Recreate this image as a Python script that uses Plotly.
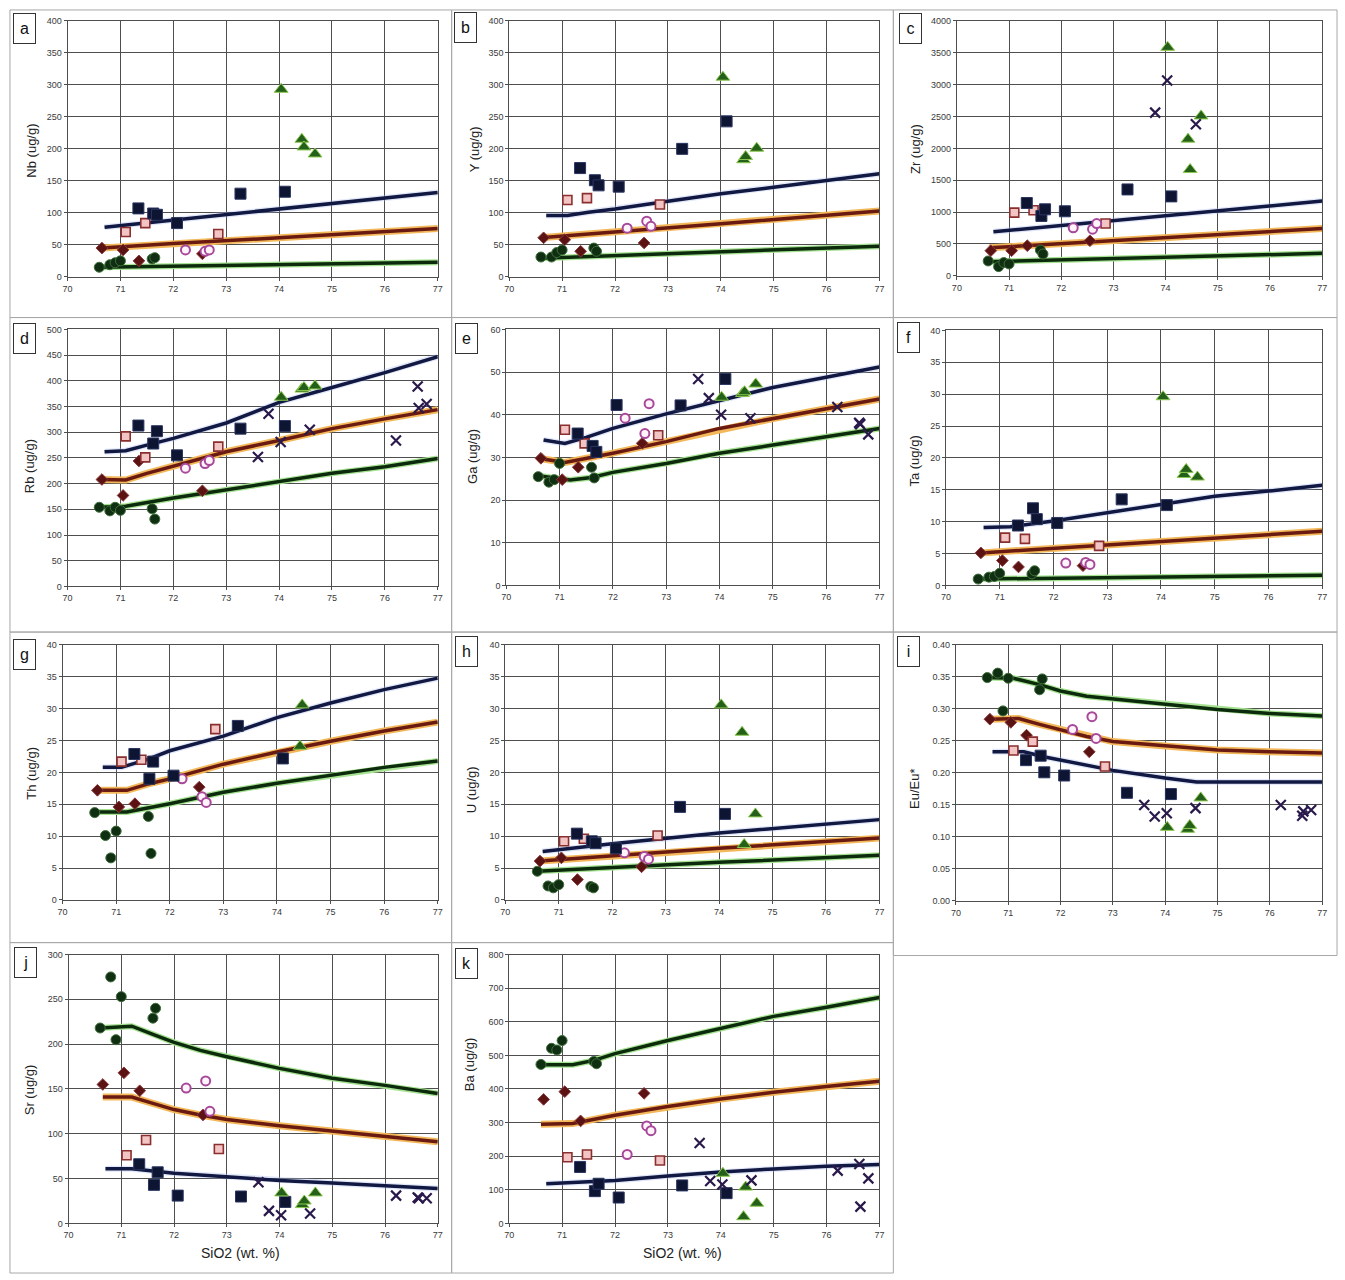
import plotly.graph_objects as go

W, H = 1345, 1280

# ---------------- shared SiO2 (wt.%) of each sample group ----------------
SIO2_CIRCLE = [70.6, 70.8, 70.9, 71.0, 71.6, 71.65]
SIO2_DIAMOND = [70.65, 71.05, 71.35, 72.55]
SIO2_PINKSQ = [71.1, 71.47, 72.85]
SIO2_OPENCIRC = [72.23, 72.6, 72.68]
SIO2_NAVYSQ = [71.34, 71.62, 71.69, 72.07, 73.27, 74.11]
SIO2_TRIANGLE = [74.04, 74.43, 74.47, 74.68]
SIO2_CROSS = [73.6, 73.8, 74.03, 74.58, 76.21, 76.62, 76.64, 76.79]
X_TICKS = [70, 71, 72, 73, 74, 75, 76, 77]

# ---------------- a: Nb ----------------
NB_CIRCLE = [15, 19, 22, 25, 28, 30]
NB_DIAMOND = [45, 42, 25, 36]
NB_PINKSQ = [70, 84, 67]
NB_OPENCIRC = [42, 40, 42]
NB_NAVYSQ = [107, 99, 97, 84, 130, 133]
NB_TRIANGLE = [293, 215, 203, 192]
NB_CROSS = [None] * 8
NB_NAVY_LINE = ([70.7, 72, 74, 77], [77.5, 89, 106, 132])
NB_BROWN_LINE = ([70.65, 72, 74, 77], [45, 52, 61, 75.5])
NB_GREEN_LINE = ([70.6, 72, 74, 77], [15, 17, 19, 23])

# ---------------- b: Y ----------------
Y_CIRCLE = [31, 31, 38, 42, 45, 40]
Y_DIAMOND = [61, 58, 40, 53]
Y_PINKSQ = [120, 123, 113]
Y_OPENCIRC = [76, 87, 79]
Y_NAVYSQ = [170, 151, 143, 141, 200, 243]
Y_TRIANGLE = [312, 183, 188, 201]
Y_CROSS = [None] * 8
Y_NAVY_LINE = ([70.7, 71.1, 71.5, 72, 73, 74, 75, 76, 77], [96, 96, 101, 106, 118, 130, 140, 151, 161])
Y_BROWN_LINE = ([70.65, 72, 74, 77], [61.5, 70, 83, 103])
Y_GREEN_LINE = ([70.6, 72, 74, 77], [29, 33, 39, 48])

# ---------------- c: Zr ----------------
ZR_CIRCLE = [234, 145, 208, 187, 405, 343]
ZR_DIAMOND = [395, 395, 473, 551]
ZR_PINKSQ = [992, 1029, 821]
ZR_OPENCIRC = [753, 732, 821]
ZR_NAVYSQ = [1143, 940, 1044, 1013, 1356, 1247]
ZR_TRIANGLE = [3585, 2145, 1668, 2509]
ZR_CROSS = [None, 2561, 3065, 2379, None, None, None, None]
ZR_NAVY_LINE = ([70.7, 72, 74, 77], [691, 790, 945, 1174])
ZR_BROWN_LINE = ([70.62, 72, 74, 77], [440, 506, 602, 743])
ZR_GREEN_LINE = ([70.6, 72, 74, 77], [223, 250, 292, 353])

# ---------------- d: Rb ----------------
RB_CIRCLE = [154, 147, 154, 148, 151, 131]
RB_DIAMOND = [208, 177, 244, 186]
RB_PINKSQ = [292, 251, 272]
RB_OPENCIRC = [230, 239, 245]
RB_NAVYSQ = [313, 278, 302, 255, 307, 312]
RB_TRIANGLE = [368, 384, 387, 390]
RB_CROSS = [252, 336, 281, 305, 284, 389, 347, 355]
RB_NAVY_LINE = ([70.7, 71.1, 71.5, 72, 73, 74, 75, 76, 77], [262, 264, 275, 288, 318, 358, 387, 416, 447])
RB_BROWN_LINE = ([70.65, 71.1, 71.5, 72, 73, 74, 75, 76, 77], [208, 207, 220, 234, 262, 284, 307, 326, 344])
RB_GREEN_LINE = ([70.6, 71.1, 72, 73, 74, 75, 76, 77], [154, 156, 172, 188, 203, 220, 233, 249])

# ---------------- e: Ga ----------------
GA_CIRCLE = [25.5, 24.2, 24.8, 28.6, 27.7, 25.2]
GA_DIAMOND = [29.8, 24.8, 27.7, 33.3]
GA_PINKSQ = [36.5, 33.3, 35.2]
GA_OPENCIRC = [39.2, 35.6, 42.6]
GA_NAVYSQ = [35.6, 32.7, 31.3, 42.3, 42.2, 48.4]
GA_TRIANGLE = [44.1, 45.0, 45.4, 47.2]
GA_CROSS = [48.4, 43.9, 40.0, 39.2, 41.8, 38.1, 37.8, 35.4]
GA_NAVY_LINE = ([70.7, 71.1, 71.5, 72, 73, 74, 75, 76, 77], [34.1, 33.3, 34.7, 36.8, 40.2, 43.3, 46.4, 48.8, 51.2])
GA_BROWN_LINE = ([70.6, 71.1, 72, 73, 74, 75, 76, 77], [29.8, 28.8, 31.0, 33.7, 36.8, 39.1, 41.4, 43.7])
GA_GREEN_LINE = ([70.6, 71.0, 71.2, 71.6, 72, 73, 74, 75, 76, 77], [25.7, 24.9, 24.7, 25.3, 26.5, 28.6, 31.0, 32.9, 34.8, 36.8])

# ---------------- f: Ta ----------------
TA_CIRCLE = [1.0, 1.3, 1.4, 1.9, 1.8, 2.3]
TA_DIAMOND = [5.1, 3.9, 2.9, 3.1]
TA_PINKSQ = [7.5, 7.3, 6.2]
TA_OPENCIRC = [3.5, 3.6, 3.3]
TA_NAVYSQ = [9.4, 12.1, 10.4, 9.8, 13.5, 12.6]
TA_TRIANGLE = [29.6, 17.4, 18.2, 17.0]
TA_CROSS = [None] * 8
TA_NAVY_LINE = ([70.7, 71.2, 72, 73, 74, 75, 76, 77], [9.1, 9.2, 10.1, 11.4, 12.7, 14.0, 14.8, 15.7])
TA_BROWN_LINE = ([70.65, 72, 74, 77], [5.1, 5.8, 6.9, 8.5])
TA_GREEN_LINE = ([70.6, 72, 74, 77], [1.0, 1.15, 1.3, 1.6])

# ---------------- g: Th ----------------
TH_CIRCLE = [13.7, 10.1, 6.6, 10.8, 13.1, 7.3]
TH_DIAMOND = [17.2, 14.6, 15.1, 17.7]
TH_PINKSQ = [21.7, 22.0, 26.8]
TH_OPENCIRC = [19.0, 16.2, 15.3]
TH_NAVYSQ = [22.9, 19.0, 21.7, 19.5, 27.3, 22.2]
TH_TRIANGLE = [None, 24.1, 30.6, None]
TH_CROSS = [None] * 8
TH_NAVY_LINE = ([70.75, 71.1, 71.6, 72, 73, 74, 75, 76, 77], [20.8, 20.8, 22.1, 23.4, 25.7, 28.6, 30.9, 33.0, 34.8])
TH_BROWN_LINE = ([70.65, 71.2, 71.6, 72, 73, 74, 75, 76, 77], [17.2, 17.2, 18.2, 19.0, 21.3, 23.2, 24.9, 26.5, 27.9])
TH_GREEN_LINE = ([70.6, 71.2, 72, 73, 74, 75, 76, 77], [13.8, 13.8, 15.1, 16.9, 18.3, 19.5, 20.8, 21.8])

# ---------------- h: U ----------------
U_CIRCLE = [4.5, 2.2, 1.9, 2.4, 2.1, 1.9]
U_DIAMOND = [6.1, 6.6, 3.2, 5.2]
U_PINKSQ = [9.2, 9.6, 10.1]
U_OPENCIRC = [7.4, 6.8, 6.4]
U_NAVYSQ = [10.4, 9.2, 8.9, 8.1, 14.6, 13.5]
U_TRIANGLE = [30.6, 26.3, 8.7, 13.5]
U_CROSS = [None] * 8
U_NAVY_LINE = ([70.7, 72, 74, 77], [7.6, 8.8, 10.5, 12.6])
U_BROWN_LINE = ([70.65, 72, 74, 77], [6.1, 6.9, 8.1, 9.7])
U_GREEN_LINE = ([70.6, 72, 74, 77], [4.5, 5.1, 5.9, 7.0])

# ---------------- i: Eu/Eu* ----------------
EU_CIRCLE = [0.349, 0.356, 0.297, 0.348, 0.330, 0.347]
EU_DIAMOND = [0.284, 0.279, 0.259, 0.233]
EU_PINKSQ = [0.235, 0.249, 0.210]
EU_OPENCIRC = [0.268, 0.288, 0.254]
EU_NAVYSQ = [0.220, 0.227, 0.201, 0.196, 0.169, 0.167]
EU_TRIANGLE = [0.115, 0.112, 0.118, 0.161]
EU_CROSS = [0.150, 0.132, 0.137, 0.145, 0.150, 0.133, 0.140, 0.142]
EU_NAVY_LINE = ([70.7, 71.3, 71.7, 72, 73, 74, 74.6, 77], [0.233, 0.233, 0.225, 0.220, 0.204, 0.192, 0.186, 0.186])
EU_BROWN_LINE = ([70.65, 71.2, 71.6, 72, 72.5, 73, 74, 75, 76, 77], [0.284, 0.285, 0.276, 0.268, 0.257, 0.249, 0.242, 0.236, 0.233, 0.231])
EU_GREEN_LINE = ([70.55, 71.1, 71.6, 72, 72.5, 73, 74, 75, 76, 77], [0.349, 0.348, 0.338, 0.328, 0.320, 0.316, 0.307, 0.299, 0.293, 0.289])

# ---------------- j: Sr ----------------
SR_CIRCLE = [218, 275, 205, 253, 229, 240]
SR_DIAMOND = [155, 168, 148, 121]
SR_PINKSQ = [76, 93, 83]
SR_OPENCIRC = [151, 159, 125]
SR_NAVYSQ = [66, 43, 57, 31, 30, 24]
SR_TRIANGLE = [34, 21, 25, 34]
SR_CROSS = [46, 14, 9, 11, 31, 29, 28, 28]
SR_NAVY_LINE = ([70.7, 71.2, 72, 73, 74, 75, 76, 77], [61, 61, 56, 52, 48, 45, 42, 39])
SR_BROWN_LINE = ([70.65, 71.2, 71.6, 72, 72.5, 73, 74, 75, 76, 77], [141, 141, 134, 127, 121, 116, 109, 103, 97, 91])
SR_GREEN_LINE = ([70.6, 71.2, 71.6, 72, 72.5, 73, 74, 75, 76, 77], [218, 220, 211, 202, 193, 186, 173, 162, 154, 145])

# ---------------- k: Ba ----------------
BA_CIRCLE = [473, 521, 516, 544, 482, 475]
BA_DIAMOND = [369, 392, 305, 387]
BA_PINKSQ = [197, 205, 187]
BA_OPENCIRC = [205, 290, 276]
BA_NAVYSQ = [168, 96, 118, 77, 113, 90]
BA_TRIANGLE = [149, 20, 108, 60]
BA_CROSS = [239, 126, 116, 128, 157, 177, 50, 134]
BA_NAVY_LINE = ([70.7, 71.5, 72, 73, 74, 75, 76, 77], [118, 123, 128, 141, 153, 162, 170, 175])
BA_BROWN_LINE = ([70.6, 71.2, 72, 73, 74, 75, 76, 77], [295, 297, 322, 348, 370, 390, 407, 423])
BA_GREEN_LINE = ([70.6, 71.2, 71.6, 72, 73, 74, 75, 76, 77], [472, 472, 485, 505, 544, 581, 616, 643, 672])

# ---------------- panel set-up (layout only) ----------------
# label, y-title, y max, y step, plot box px (x0, x1, y0, y1), frame px, label px, ytitle px, data
PANELS = [
    ("a", "Nb (ug/g)", 400, 50, (63, 436, 16, 274), (5, 450, 5, 315), (20, 24), (27, 147),
     (NB_CIRCLE, NB_DIAMOND, NB_PINKSQ, NB_OPENCIRC, NB_NAVYSQ, NB_TRIANGLE, NB_CROSS, NB_NAVY_LINE, NB_BROWN_LINE, NB_GREEN_LINE)),
    ("b", "Y (ug/g)", 400, 50, (508, 881, 16, 274), (450, 895, 5, 315), (464, 23), (473, 145),
     (Y_CIRCLE, Y_DIAMOND, Y_PINKSQ, Y_OPENCIRC, Y_NAVYSQ, Y_TRIANGLE, Y_CROSS, Y_NAVY_LINE, Y_BROWN_LINE, Y_GREEN_LINE)),
    ("c", "Zr (ug/g)", 4000, 500, (959, 1327, 16, 273), (895, 1342, 5, 315), (912, 24), (918, 145),
     (ZR_CIRCLE, ZR_DIAMOND, ZR_PINKSQ, ZR_OPENCIRC, ZR_NAVYSQ, ZR_TRIANGLE, ZR_CROSS, ZR_NAVY_LINE, ZR_BROWN_LINE, ZR_GREEN_LINE)),
    ("d", "Rb (ug/g)", 500, 50, (63, 436, 327, 586), (5, 450, 315, 632), (20, 336), (25, 465),
     (RB_CIRCLE, RB_DIAMOND, RB_PINKSQ, RB_OPENCIRC, RB_NAVYSQ, RB_TRIANGLE, RB_CROSS, RB_NAVY_LINE, RB_BROWN_LINE, RB_GREEN_LINE)),
    ("e", "Ga (ug/g)", 60, 10, (505, 881, 327, 585), (450, 895, 315, 632), (465, 336), (471, 455),
     (GA_CIRCLE, GA_DIAMOND, GA_PINKSQ, GA_OPENCIRC, GA_NAVYSQ, GA_TRIANGLE, GA_CROSS, GA_NAVY_LINE, GA_BROWN_LINE, GA_GREEN_LINE)),
    ("f", "Ta (ug/g)", 40, 5, (948, 1327, 328, 585), (895, 1342, 315, 632), (910, 335), (916, 460),
     (TA_CIRCLE, TA_DIAMOND, TA_PINKSQ, TA_OPENCIRC, TA_NAVYSQ, TA_TRIANGLE, TA_CROSS, TA_NAVY_LINE, TA_BROWN_LINE, TA_GREEN_LINE)),
    ("g", "Th (ug/g)", 40, 5, (58, 436, 645, 902), (5, 450, 632, 945), (20, 655), (27, 774),
     (TH_CIRCLE, TH_DIAMOND, TH_PINKSQ, TH_OPENCIRC, TH_NAVYSQ, TH_TRIANGLE, TH_CROSS, TH_NAVY_LINE, TH_BROWN_LINE, TH_GREEN_LINE)),
    ("h", "U (ug/g)", 40, 5, (504, 881, 645, 902), (450, 895, 632, 945), (465, 652), (470, 791),
     (U_CIRCLE, U_DIAMOND, U_PINKSQ, U_OPENCIRC, U_NAVYSQ, U_TRIANGLE, U_CROSS, U_NAVY_LINE, U_BROWN_LINE, U_GREEN_LINE)),
    ("i", "Eu/Eu*", 0.40, 0.05, (958, 1327, 645, 903), (895, 1342, 632, 958), (910, 652), (917, 790),
     (EU_CIRCLE, EU_DIAMOND, EU_PINKSQ, EU_OPENCIRC, EU_NAVYSQ, EU_TRIANGLE, EU_CROSS, EU_NAVY_LINE, EU_BROWN_LINE, EU_GREEN_LINE)),
    ("j", "Sr (ug/g)", 300, 50, (64, 436, 957, 1228), (5, 450, 945, 1278), (21, 965), (25, 1093),
     (SR_CIRCLE, SR_DIAMOND, SR_PINKSQ, SR_OPENCIRC, SR_NAVYSQ, SR_TRIANGLE, SR_CROSS, SR_NAVY_LINE, SR_BROWN_LINE, SR_GREEN_LINE)),
    ("k", "Ba (ug/g)", 800, 100, (508, 881, 957, 1228), (450, 895, 945, 1278), (465, 966), (468, 1068),
     (BA_CIRCLE, BA_DIAMOND, BA_PINKSQ, BA_OPENCIRC, BA_NAVYSQ, BA_TRIANGLE, BA_CROSS, BA_NAVY_LINE, BA_BROWN_LINE, BA_GREEN_LINE)),
]

def px(x):
    return x / W

def py(y):
    return 1 - y / H

NAVY = "#111842"
BROWN = "#6a1a10"
DGREEN = "#0c2a0c"
GRID = "#4e4e4e"
FONT = "Liberation Sans, Arial, sans-serif"

fig = go.Figure()
shapes = []
annotations = []
layout_axes = {}

for i, (lab, ytitle, ymax, ystep, box, frame, lpos, tpos, data) in enumerate(PANELS):
    n = i + 1
    xa = "x" if n == 1 else f"x{n}"
    ya = "y" if n == 1 else f"y{n}"
    circ, diam, psq, ocirc, nsq, tri, cross, navy_l, brown_l, green_l = data

    # model curves (glow under + core line)
    fig.add_trace(go.Scatter(x=navy_l[0], y=navy_l[1], mode="lines", xaxis=xa, yaxis=ya,
                             line=dict(color="rgba(170,185,235,0.35)", width=6), hoverinfo="skip"))
    fig.add_trace(go.Scatter(x=navy_l[0], y=navy_l[1], mode="lines", xaxis=xa, yaxis=ya,
                             line=dict(color=NAVY, width=3.5)))
    fig.add_trace(go.Scatter(x=brown_l[0], y=brown_l[1], mode="lines", xaxis=xa, yaxis=ya,
                             line=dict(color="#f2b85a", width=7), hoverinfo="skip"))
    fig.add_trace(go.Scatter(x=brown_l[0], y=brown_l[1], mode="lines", xaxis=xa, yaxis=ya,
                             line=dict(color=BROWN, width=3.5)))
    fig.add_trace(go.Scatter(x=green_l[0], y=green_l[1], mode="lines", xaxis=xa, yaxis=ya,
                             line=dict(color="#a6e292", width=6), hoverinfo="skip"))
    fig.add_trace(go.Scatter(x=green_l[0], y=green_l[1], mode="lines", xaxis=xa, yaxis=ya,
                             line=dict(color=DGREEN, width=3.5)))

    # samples
    fig.add_trace(go.Scatter(x=SIO2_CIRCLE, y=circ, mode="markers", xaxis=xa, yaxis=ya,
                             marker=dict(symbol="circle", size=10, color="#0f2e12", line=dict(color="#3f6f3a", width=1))))
    fig.add_trace(go.Scatter(x=SIO2_DIAMOND, y=diam, mode="markers", xaxis=xa, yaxis=ya,
                             marker=dict(symbol="diamond", size=9, color="#5a1212", line=dict(color="#8a3a3a", width=1))))
    fig.add_trace(go.Scatter(x=SIO2_PINKSQ, y=psq, mode="markers", xaxis=xa, yaxis=ya,
                             marker=dict(symbol="square", size=9, color="#f2c4c4", line=dict(color="#8a2e2e", width=1.6))))
    fig.add_trace(go.Scatter(x=SIO2_OPENCIRC, y=ocirc, mode="markers", xaxis=xa, yaxis=ya,
                             marker=dict(symbol="circle", size=9, color="#fff4fa", line=dict(color="#a8489a", width=2))))
    fig.add_trace(go.Scatter(x=SIO2_NAVYSQ, y=nsq, mode="markers", xaxis=xa, yaxis=ya,
                             marker=dict(symbol="square", size=11, color="#0e1533", line=dict(color="#2a3560", width=1))))
    fig.add_trace(go.Scatter(x=SIO2_TRIANGLE, y=tri, mode="markers", xaxis=xa, yaxis=ya,
                             marker=dict(symbol="triangle-up", size=12, color="#25601a", line=dict(color="#8cc84e", width=1))))
    fig.add_trace(go.Scatter(x=SIO2_CROSS, y=cross, mode="markers", xaxis=xa, yaxis=ya,
                             marker=dict(symbol="x-thin", size=10, color="#2a1a4c", line=dict(color="#2a1a4c", width=2.2))))

    x0, x1, y0, y1 = box
    axis_common = dict(showgrid=True, gridcolor=GRID, gridwidth=1, showline=True, linecolor=GRID,
                       linewidth=1, mirror=True, ticks="outside", ticklen=3, tickcolor=GRID,
                       tickfont=dict(family=FONT, size=9, color="#3a3a3a"),
                       zeroline=False, fixedrange=True)
    layout_axes["xaxis" if n == 1 else f"xaxis{n}"] = dict(
        domain=[px(x0), px(x1)], anchor=ya, range=[70, 77], tickvals=X_TICKS, **axis_common)
    ytick_vals = [round(k * ystep, 4) for k in range(int(round(ymax / ystep)) + 1)]
    layout_axes["yaxis" if n == 1 else f"yaxis{n}"] = dict(
        domain=[py(y1), py(y0)], anchor=xa, range=[0, ymax], tickvals=ytick_vals,
        tickformat=".2f" if ymax < 1 else "d", **axis_common)

    fx0, fx1, fy0, fy1 = frame
    shapes.append(dict(type="rect", xref="paper", yref="paper", x0=px(fx0), x1=px(fx1),
                       y0=py(fy1), y1=py(fy0), line=dict(color="#a8a8a8", width=1), layer="below"))

    annotations.append(dict(text=lab, xref="paper", yref="paper", x=px(lpos[0]), y=py(lpos[1]),
                            xanchor="center", yanchor="middle", showarrow=False, width=17, height=25,
                            bordercolor="#333", borderwidth=1, borderpad=2, bgcolor="white",
                            font=dict(family=FONT, size=16, color="#111")))
    annotations.append(dict(text=ytitle, xref="paper", yref="paper", x=px(tpos[0]), y=py(tpos[1]),
                            xanchor="center", yanchor="middle", showarrow=False, textangle=-90,
                            font=dict(family=FONT, size=13, color="#222")))

for xt in (237, 683):
    annotations.append(dict(text="SiO2 (wt. %)", xref="paper", yref="paper", x=px(xt), y=py(1258),
                            xanchor="center", yanchor="middle", showarrow=False,
                            font=dict(family=FONT, size=14, color="#222")))

fig.update_layout(
    width=W, height=H, margin=dict(l=0, r=0, t=0, b=0),
    paper_bgcolor="white", plot_bgcolor="white", showlegend=False,
    shapes=shapes, annotations=annotations, **layout_axes)

fig.write_html("out.html", config={"displayModeBar": False})
